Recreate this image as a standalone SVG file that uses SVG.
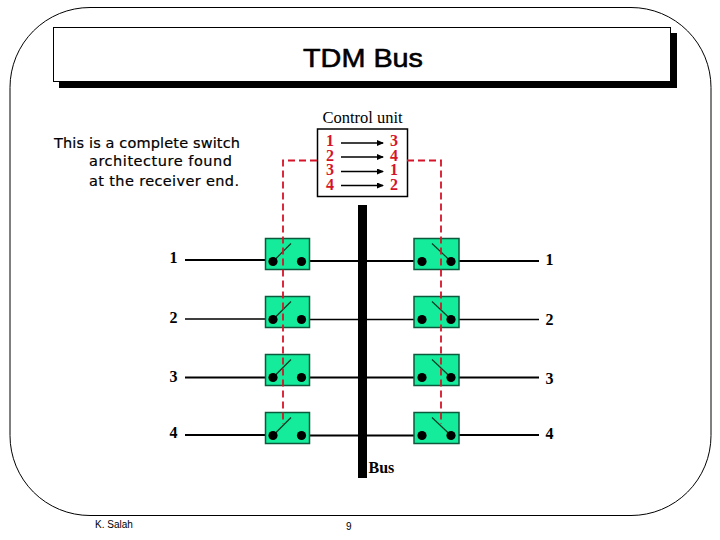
<svg xmlns="http://www.w3.org/2000/svg" width="720" height="540" viewBox="0 0 720 540">
<style>
.sw{fill:#14ec9c;stroke:#0b5a3c;stroke-width:1.5}
.dot{fill:#000}
.lev{stroke:#0b3a22;stroke-width:1.2;fill:none}
.ln{stroke:#000;fill:none}
.red{stroke:#d5142a;stroke-width:1.8;stroke-dasharray:7 4;fill:none}
.serif{font-family:"Liberation Serif",serif}
.b{font-family:"Liberation Serif",serif;font-weight:bold;font-size:16px}
.rd{font-family:"Liberation Serif",serif;font-weight:bold;font-size:16px;fill:#d5142a;text-anchor:middle}
.body{font-family:"DejaVu Sans",sans-serif;font-size:14.5px;fill:#000;stroke:#000;stroke-width:0.2}
.foot{font-family:"Liberation Sans",sans-serif;font-size:10px;fill:#000}
</style>
<defs>
<marker id="a" markerWidth="7" markerHeight="6" refX="6" refY="3" orient="auto" markerUnits="userSpaceOnUse"><path d="M0 0L7 3L0 6Z" fill="#000"/></marker>
<g id="leftSw"><rect class="sw" x="265.5" y="0" width="44" height="31"/><path class="lev" d="M273 23L291 5"/><circle class="dot" cx="273" cy="23" r="4.6"/><circle class="dot" cx="301.5" cy="23" r="4.6"/></g>
<g id="rightSw"><rect class="sw" x="414" y="0" width="45" height="31"/><path class="lev" d="M432 5L451 23"/><circle class="dot" cx="422" cy="23" r="4.6"/><circle class="dot" cx="451" cy="23" r="4.6"/></g>
</defs>
<rect x="10" y="7.500" width="701" height="508" rx="80" ry="80" fill="#fff" stroke="#000" stroke-width="1"/>
<g id="title">
<rect x="59" y="33" width="618" height="55" fill="#000"/>
<rect x="53.500" y="27.500" width="617" height="54" fill="#fff" stroke="#000"/>
<text x="303" y="67" font-family="Liberation Sans, sans-serif" font-size="26" fill="#000" stroke="#000" stroke-width="0.6" textLength="120" lengthAdjust="spacingAndGlyphs">TDM Bus</text>
</g>
<g id="description">
<text class="body" x="54" y="148" textLength="186">This is a complete switch</text>
<text class="body" x="89" y="166" textLength="143">architecture found</text>
<text class="body" x="89" y="186" textLength="150">at the receiver end.</text>
</g>
<g id="control-unit">
<text class="serif" x="362.500" y="123" text-anchor="middle" font-size="16.500" fill="#000">Control unit</text>
<rect x="317.500" y="129" width="90" height="67.500" fill="#fff" stroke="#000" stroke-width="1.500"/>
<text class="rd" x="330" y="146">1</text><text class="rd" x="330" y="160.500">2</text><text class="rd" x="330" y="175">3</text><text class="rd" x="330" y="189.500">4</text>
<text class="rd" x="394" y="146">3</text><text class="rd" x="394" y="160.500">4</text><text class="rd" x="394" y="175">1</text><text class="rd" x="394" y="189.500">2</text>
</g>
<g id="connectors">
<path class="ln" stroke-width="1.500" marker-end="url(#a)" d="M341 143H383"/>
<path class="ln" stroke-width="1.500" marker-end="url(#a)" d="M341 157H383"/>
<path class="ln" stroke-width="1.500" marker-end="url(#a)" d="M341 171.500H383"/>
<path class="ln" stroke-width="1.500" marker-end="url(#a)" d="M341 185.500H383"/>
<path class="ln" stroke-width="2" d="M185 260H266M310 261H414M459 261H539"/>
<path class="ln" stroke-width="1.300" d="M185 319H266M310 319.500H414M459 319.500H539"/>
<path class="ln" stroke-width="2" d="M185 377.500H266M310 377.500H414M459 377.500H539"/>
<path class="ln" stroke-width="2" d="M185 435H266M310 435.500H414M459 435H539"/>
</g>
<g id="bus"><rect x="358" y="205" width="9" height="273" fill="#000"/><text class="b" x="368.500" y="472.500" fill="#000">Bus</text></g>
<g id="sw-l1"><use href="#leftSw" y="238.500"/></g>
<g id="sw-l2"><use href="#leftSw" y="296.500"/></g>
<g id="sw-l3"><use href="#leftSw" y="354.500"/></g>
<g id="sw-l4"><use href="#leftSw" y="412.500"/></g>
<g id="sw-r1"><use href="#rightSw" y="238.500"/></g>
<g id="sw-r2"><use href="#rightSw" y="296.500"/></g>
<g id="sw-r3"><use href="#rightSw" y="354.500"/></g>
<g id="sw-r4"><use href="#rightSw" y="412.500"/></g>
<g id="control-lines">
<path class="red" d="M317 160.500H283V424"/>
<path class="red" d="M407 160.500H441V424"/>
</g>
<g id="labels" fill="#000">
<text class="b" x="169.500" y="263">1</text><text class="b" x="169.500" y="322.500">2</text><text class="b" x="169.500" y="381.500">3</text><text class="b" x="169.500" y="437.500">4</text>
<text class="b" x="545.500" y="265">1</text><text class="b" x="545.500" y="324.500">2</text><text class="b" x="545.500" y="384">3</text><text class="b" x="545.500" y="439">4</text>
</g>
<g id="footer">
<text class="foot" x="95" y="528">K. Salah</text>
<text class="foot" x="346" y="530">9</text>
</g>
</svg>
